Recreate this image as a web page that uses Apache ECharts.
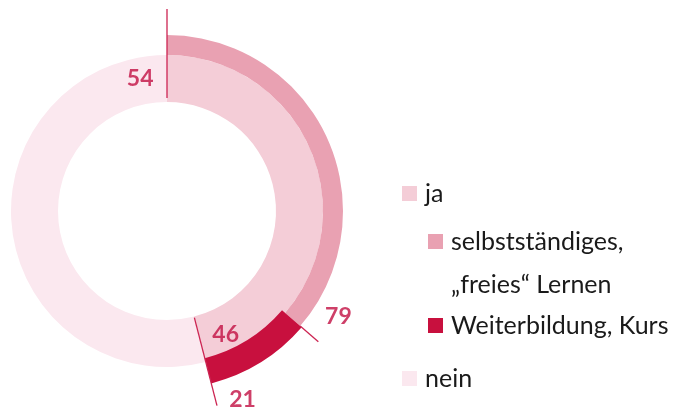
<!DOCTYPE html>
<html>
<head>
<meta charset="utf-8">
<script src="https://cdn.jsdelivr.net/npm/echarts@6/dist/echarts.min.js"></script>
<style>
html,body{margin:0;padding:0;background:#fff;}
#chart{width:682px;height:408px;}
</style>
</head>
<body>
<div id="chart"></div>
<script>
// ---- data ----
const mainCategories = ['ja', 'nein'];
const mainValues = [46, 54];
const subCategories = ['selbstständiges,\n„freies“ Lernen', 'Weiterbildung, Kurs'];
const subValues = [79, 21]; // percent of "ja"

// ---- styles ----
const colJa = '#f4cdd7';
const colNein = '#fbe8ef';
const colSelbst = '#e9a1b2';
const colKurs = '#c8103e';
const colLabel = '#c20f42';
const colLine = '#cc2452';
const FONT = 'Lato, "Noto Sans", sans-serif';
const NONE = 'rgba(0,0,0,0)';

const center = [167, 211];

// derived from data
const jaShare = mainValues[0];
const subShares = subValues.map(v => v * jaShare / 100);
const splitAngle = subShares[0];

const chart = echarts.init(document.getElementById('chart'), null, {renderer: 'canvas'});

function lineSeries(angle, r0, r1) {
  return {
    type: 'line', coordinateSystem: 'polar', silent: true, symbol: 'none',
    lineStyle: {color: colLine, width: 1.3},
    data: [[r0, angle], [r1, angle]], z: 5, animation: false
  };
}

const labelStyle = {color: colLabel, fontFamily: FONT, fontWeight: 'bold', fontSize: 23};

const labelPoints = [
  {value: [132, 0], text: String(mainValues[1]), label: {position: 'left', distance: 13}},
  {value: [128, jaShare], text: String(mainValues[0]), label: {position: 'right', distance: 13}},
  {value: [199, splitAngle], text: String(subValues[0]), label: {position: 'right', distance: 7, offset: [0, -25]}},
  {value: [200, jaShare], text: String(subValues[1]), label: {position: 'right', distance: 12, offset: [0, -5]}}
];

function legend(name, left, top, formatter) {
  return {
    data: [name], left: left, top: top, orient: 'vertical', padding: 0,
    selectedMode: false, icon: 'rect', itemWidth: 15, itemHeight: 15,
    formatter: formatter || '{name}',
    textStyle: {fontFamily: FONT, fontSize: 25, color: '#1a1a1a', lineHeight: 43, padding: [0, 0, 0, 3]}
  };
}

const pieBase = {
  type: 'pie', center: center, startAngle: 90, clockwise: true,
  silent: true, label: {show: false}, labelLine: {show: false}
};

chart.setOption({
  animation: false,
  polar: {center: center, radius: 210},
  angleAxis: {type: 'value', min: 0, max: 100, startAngle: 90, clockwise: true, show: false},
  radiusAxis: {type: 'value', min: 0, max: 210, show: false},
  legend: [
    legend(mainCategories[0], 402, 172),
    legend(subCategories[0], 428, 177, n => '\n' + n),
    legend(subCategories[1], 428, 304),
    legend(mainCategories[1], 402, 357)
  ],
  series: [
    Object.assign({}, pieBase, {
      radius: [109, 156], z: 1,
      data: [
        {name: mainCategories[0], value: mainValues[0], itemStyle: {color: colJa}},
        {name: mainCategories[1], value: mainValues[1], itemStyle: {color: colNein}}
      ]
    }),
    Object.assign({}, pieBase, {
      radius: [156, 176], z: 2,
      data: [
        {name: subCategories[0], value: subShares[0], itemStyle: {color: colSelbst}},
        {name: '', value: subShares[1], itemStyle: {color: NONE}},
        {name: '', value: 100 - jaShare, itemStyle: {color: NONE}}
      ]
    }),
    Object.assign({}, pieBase, {
      radius: [152, 178], z: 3,
      data: [
        {name: '', value: subShares[0], itemStyle: {color: NONE}},
        {name: subCategories[1], value: subShares[1], itemStyle: {color: colKurs}},
        {name: '', value: 100 - jaShare, itemStyle: {color: NONE}}
      ]
    }),
    lineSeries(0, 113, 202),
    lineSeries(jaShare, 110, 201),
    lineSeries(splitAngle, 176, 200),
    {
      type: 'scatter', coordinateSystem: 'polar', symbolSize: 1, silent: true, z: 6,
      itemStyle: {color: NONE},
      data: labelPoints.map(p => ({
        value: p.value,
        label: Object.assign({show: true, formatter: p.text}, labelStyle, p.label)
      }))
    }
  ]
});
</script>
</body>
</html>
